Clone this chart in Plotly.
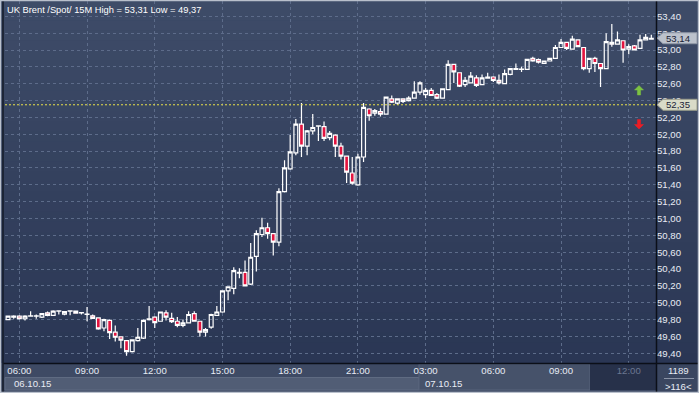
import plotly.graph_objects as go
from datetime import datetime, timedelta

# ---------------- data ----------------
instrument = "UK Brent /Spot/ 15M"
day1, day2 = "06.10.15", "07.10.15"
day1_start, day1_count = "05:15", 74
day2_start, day2_count = "02:45", 42

open_ = [49.80, 49.80, 49.83, 49.84, 49.81, 49.84, 49.84, 49.83, 49.88, 49.85,
         49.90, 49.865, 49.90, 49.90, 49.88, 49.86, 49.845, 49.82, 49.70, 49.79,
         49.65, 49.595, 49.55, 49.42, 49.55, 49.58, 49.80, 49.83, 49.78, 49.88,
         49.815, 49.78, 49.73, 49.76, 49.87, 49.78, 49.65, 49.71, 49.85, 49.89,
         50.14, 50.17, 50.35, 50.36, 50.22, 50.55, 50.81, 50.89, 50.82, 50.72,
         51.32, 51.59, 51.78, 52.12, 51.86, 52.04, 52.095, 52.09, 51.96, 51.99,
         51.86, 51.74, 51.54, 51.40, 51.73, 52.30, 52.25, 52.27, 52.24, 52.42,
         52.37, 52.42, 52.40, 52.43, 52.50, 52.47, 52.52, 52.47, 52.43, 52.53,
         52.83, 52.73, 52.59, 52.61, 52.67, 52.59, 52.665, 52.68, 52.64, 52.60,
         52.71, 52.77, 52.77, 52.77, 52.90, 52.885, 52.84, 52.87, 52.90, 53.03,
         53.09, 53.01, 53.12, 53.03, 52.78, 52.90, 52.84, 52.78, 53.09, 53.07,
         53.11, 53.01, 53.05, 53.02, 53.12, 53.13]

high = [49.82, 49.845, 49.85, 49.85, 49.85, 49.90, 49.86, 49.875, 49.895, 49.91,
        49.905, 49.90, 49.905, 49.905, 49.885, 49.95, 49.86, 49.825, 49.81, 49.80,
        49.73, 49.60, 49.555, 49.565, 49.70, 49.80, 49.96, 49.84, 49.895, 49.91,
        49.88, 49.83, 49.80, 49.90, 49.90, 49.785, 49.70, 49.87, 49.96, 50.145,
        50.195, 50.42, 50.41, 50.50, 50.71, 50.86, 51.01, 50.95, 50.825, 51.36,
        51.69, 51.99, 52.18, 52.37, 52.05, 52.24, 52.105, 52.15, 52.04, 52.00,
        51.90, 51.745, 51.73, 51.77, 52.37, 52.31, 52.30, 52.31, 52.445, 52.46,
        52.425, 52.425, 52.45, 52.63, 52.63, 52.55, 52.55, 52.49, 52.545, 52.88,
        52.835, 52.735, 52.68, 52.74, 52.70, 52.71, 52.73, 52.69, 52.71, 52.77,
        52.785, 52.84, 52.80, 52.895, 52.92, 52.90, 52.875, 52.905, 53.06, 53.13,
        53.095, 53.17, 53.125, 53.035, 52.905, 52.92, 52.845, 53.20, 53.31, 53.22,
        53.115, 53.07, 53.06, 53.18, 53.19, 53.18]

low = [49.79, 49.795, 49.81, 49.80, 49.79, 49.835, 49.81, 49.82, 49.84, 49.845,
       49.86, 49.85, 49.85, 49.87, 49.86, 49.78, 49.81, 49.68, 49.66, 49.57,
       49.54, 49.46, 49.37, 49.41, 49.54, 49.57, 49.79, 49.70, 49.775, 49.79,
       49.76, 49.71, 49.71, 49.755, 49.775, 49.60, 49.60, 49.69, 49.845, 49.88,
       50.03, 50.10, 50.29, 50.195, 50.21, 50.37, 50.78, 50.76, 50.56, 50.67,
       51.31, 51.58, 51.75, 51.73, 51.75, 52.00, 51.92, 51.92, 51.93, 51.73,
       51.70, 51.42, 51.40, 51.39, 51.67, 52.16, 52.22, 52.21, 52.235, 52.37,
       52.35, 52.37, 52.39, 52.425, 52.47, 52.43, 52.455, 52.42, 52.425, 52.525,
       52.61, 52.56, 52.56, 52.605, 52.56, 52.585, 52.66, 52.62, 52.59, 52.595,
       52.70, 52.765, 52.74, 52.765, 52.86, 52.84, 52.835, 52.865, 52.895, 53.025,
       53.00, 53.005, 53.035, 52.76, 52.73, 52.74, 52.56, 52.775, 53.04, 53.065,
       52.85, 52.95, 52.995, 53.015, 53.115, 53.125]

close = [49.81, 49.84, 49.84, 49.81, 49.84, 49.845, 49.845, 49.87, 49.85, 49.90,
         49.905, 49.895, 49.903, 49.875, 49.882, 49.865, 49.815, 49.69, 49.80, 49.645,
         49.59, 49.555, 49.42, 49.56, 49.59, 49.79, 49.81, 49.765, 49.89, 49.83,
         49.775, 49.73, 49.76, 49.86, 49.78, 49.65, 49.68, 49.86, 49.89, 50.14,
         50.19, 50.38, 50.36, 50.20, 50.54, 50.82, 50.89, 50.82, 50.72, 51.32,
         51.60, 51.79, 52.12, 51.86, 52.04, 52.08, 52.10, 51.95, 52.01, 51.86,
         51.74, 51.55, 51.42, 51.73, 52.32, 52.22, 52.28, 52.24, 52.44, 52.38,
         52.42, 52.39, 52.43, 52.50, 52.61, 52.52, 52.46, 52.43, 52.54, 52.83,
         52.74, 52.57, 52.64, 52.69, 52.58, 52.67, 52.68, 52.64, 52.61, 52.72,
         52.78, 52.78, 52.775, 52.89, 52.87, 52.855, 52.87, 52.90, 53.03, 53.09,
         53.02, 53.13, 53.04, 52.78, 52.90, 52.84, 52.78, 53.10, 53.07, 53.12,
         53.00, 53.04, 53.00, 53.12, 53.15, 53.14]

bid_price = 52.35
total_bars = "1189"

tick_times = ["06.10.15 06:00", "06.10.15 09:00", "06.10.15 12:00", "06.10.15 15:00",
              "06.10.15 18:00", "06.10.15 21:00", "07.10.15 03:00", "07.10.15 06:00",
              "07.10.15 09:00", "07.10.15 12:00"]
tick_labels = ["06:00", "09:00", "12:00", "15:00", "18:00", "21:00",
               "03:00", "06:00", "09:00", "12:00"]
y_ticks = [49.40, 49.60, 49.80, 50.00, 50.20, 50.40, 50.60, 50.80, 51.00, 51.20,
           51.40, 51.60, 51.80, 52.00, 52.20, 52.40, 52.60, 52.80, 53.00, 53.20, 53.40]


def stamps(day, start, n):
    t0 = datetime.strptime(day + " " + start, "%d.%m.%y %H:%M")
    return [(t0 + timedelta(minutes=15 * k)).strftime("%d.%m.%y %H:%M") for k in range(n)]


times = stamps(day1, day1_start, day1_count) + stamps(day2, day2_start, day2_count)


def fmt(v):
    return f"{v:.2f}".replace(".", ",")


# ---------------- geometry helpers (layout decoration only) ----------------
W, H = 699, 393
ML, MR, MT, MB = 5, 43, 1, 30
PW = W - ML - MR
PH = H - MT - MB
BOTTOM = H - MB


def px(x):
    return (x - ML) / PW


def py(y):
    return (BOTTOM - y) / PH


FONT = "Liberation Sans, Arial, sans-serif"
TXT = "#e8ecf4"

fig = go.Figure()
fig.add_trace(go.Candlestick(
    x=times, open=open_, high=high, low=low, close=close,
    increasing=dict(line=dict(color="#ffffff", width=1.2), fillcolor="rgba(0,0,0,0)"),
    decreasing=dict(line=dict(color="#ffffff", width=1.2), fillcolor="#e3143f"),
    whiskerwidth=0, hoverinfo="skip", showlegend=False,
))

shapes = []
# background gradient
top_c = (62, 76, 104)
bot_c = (42, 54, 84)
n = 36
for i in range(n):
    y0 = i * BOTTOM / n
    y1 = (i + 1) * BOTTOM / n
    f = (i + 0.5) / n
    c = tuple(round(top_c[k] + (bot_c[k] - top_c[k]) * f) for k in range(3))
    shapes.append(dict(type="rect", xref="paper", yref="paper", layer="below",
                       x0=px(0), x1=px(W), y0=py(y1 + 0.5), y1=py(y0),
                       fillcolor="rgb(%d,%d,%d)" % c, line_width=0))


def rect(x0, y0, x1, y1, fill, line=None, layer="below"):
    d = dict(type="rect", xref="paper", yref="paper", layer=layer,
             x0=px(x0), x1=px(x1), y0=py(y1), y1=py(y0), fillcolor=fill)
    if line:
        d["line"] = dict(color=line, width=1)
    else:
        d["line_width"] = 0
    return d


def hline(x0, x1, y, color, width=1, layer="above"):
    return dict(type="line", xref="paper", yref="paper", layer=layer,
                x0=px(x0), x1=px(x1), y0=py(y), y1=py(y), line=dict(color=color, width=width))


def vline(x, y0, y1, color, width=1, layer="above"):
    return dict(type="line", xref="paper", yref="paper", layer=layer,
                x0=px(x), x1=px(x), y0=py(y0), y1=py(y1), line=dict(color=color, width=width))


# bottom axis area
shapes.append(rect(0, BOTTOM, W, H, "#3e4a64"))
shapes.append(rect(5, 377.5, 419, 390, "#515d75", line="#5f6b82"))
shapes.append(rect(419, 364, 590, 390, "#46526a", line="#56627a"))
shapes.append(rect(590, 364, 656, 390, "#27314a"))
shapes.append(rect(657, 364, W, H, "#3a4660"))

# bid line
shapes.append(dict(type="line", xref="paper", yref="y", x0=0, x1=1, y0=bid_price, y1=bid_price,
                   line=dict(color="#e8e24a", width=1, dash="2px,2px"), layer="above"))

# separators and frame
shapes.append(vline(656.5, 0, H, "#0b0f18", 1.5))
shapes.append(hline(3, W, BOTTOM + 0.5, "#0b0f18", 1.5))
shapes.append(vline(3, 0, H, "#151b28", 1.5))
shapes.append(hline(664, 694, 378.5, "#8a93a6", 1))
shapes.append(dict(type="rect", xref="paper", yref="paper", layer="above",
                   x0=px(0.5), x1=px(W - 0.5), y0=py(H - 0.5), y1=py(0.5),
                   line=dict(color="#b9c0cc", width=1.5), fillcolor="rgba(0,0,0,0)"))


# price markers on the right axis
def marker(price, fill, border):
    return dict(type="path", xref="paper", yref="y", xsizemode="pixel", ysizemode="pixel",
                xanchor=1, yanchor=price, layer="above",
                path="M 1 0 L 7 5.5 L 41 5.5 L 41 -5.5 L 7 -5.5 Z",
                fillcolor=fill, line=dict(color=border, width=1))


last_close = close[-1]
shapes.append(marker(last_close, "#bcc2cc", "#8f97a6"))
shapes.append(marker(bid_price, "#d9dbc8", "#9a9c8a"))


# signal arrows
def arrow(xc, yc, up, color):
    s = 1 if up else -1
    pts = [(0, 5 * s), (-4.5, 0.5 * s), (-1.6, 0.5 * s), (-1.6, -4.5 * s), (1.6, -4.5 * s),
           (1.6, 0.5 * s), (4.5, 0.5 * s)]
    path = "M " + " L ".join("%g %g" % p for p in pts) + " Z"
    return dict(type="path", xref="paper", yref="paper", xsizemode="pixel", ysizemode="pixel",
                xanchor=px(xc), yanchor=py(yc), path=path, fillcolor=color,
                line=dict(color=color, width=0.5), layer="above")


shapes.append(arrow(639, 90.5, True, "#7cc242"))
shapes.append(arrow(639, 124, False, "#ec1c24"))

annotations = [
    dict(xref="paper", yref="paper", x=px(5), y=py(10), xanchor="left", yanchor="middle",
         text=f"{instrument} High = {fmt(max(high))} Low = {fmt(min(low))}",
         showarrow=False, font=dict(family=FONT, size=9.3, color="#ffffff")),
    dict(xref="paper", yref="y", x=1, y=last_close, xshift=8, xanchor="left", yanchor="middle",
         text=fmt(last_close), showarrow=False, font=dict(family=FONT, size=9.6, color="#1a2236")),
    dict(xref="paper", yref="y", x=1, y=bid_price, xshift=8, xanchor="left", yanchor="middle",
         text=fmt(bid_price), showarrow=False, font=dict(family=FONT, size=9.6, color="#1a2236")),
    dict(xref="paper", yref="paper", x=px(12), y=py(383.5), xanchor="left", yanchor="middle",
         text=day1, showarrow=False, font=dict(family=FONT, size=9.6, color=TXT)),
    dict(xref="paper", yref="paper", x=px(423), y=py(383.5), xanchor="left", yanchor="middle",
         text=day2, showarrow=False, font=dict(family=FONT, size=9.6, color=TXT)),
    dict(xref="paper", yref="paper", x=px(678.5), y=py(370.5), xanchor="center", yanchor="middle",
         text=total_bars, showarrow=False, font=dict(family=FONT, size=9.6, color=TXT)),
    dict(xref="paper", yref="paper", x=px(678.5), y=py(386), xanchor="center", yanchor="middle",
         text=f"&gt;{len(close)}&lt;", showarrow=False, font=dict(family=FONT, size=9.6, color=TXT)),
]

tick_text = tick_labels[:-1] + ['<span style="color:#6c7791">%s</span>' % tick_labels[-1]]

fig.update_layout(
    width=W, height=H,
    margin=dict(l=ML, r=MR, t=MT, b=MB, pad=0, autoexpand=False),
    paper_bgcolor="#344160", plot_bgcolor="rgba(0,0,0,0)",
    separators=", ",
    font=dict(family=FONT, size=9.6, color=TXT),
    shapes=shapes, annotations=annotations,
    showlegend=False, hovermode=False,
    boxgap=0.15, boxgroupgap=0.2,
    xaxis=dict(type="category", categoryorder="array", categoryarray=times,
               range=[0.46, 115.83], rangeslider=dict(visible=False),
               tickmode="array", tickvals=tick_times, ticktext=tick_text,
               showgrid=True, gridcolor="#5d6c8a", griddash="3px,3px", gridwidth=1,
               showline=False, zeroline=False, ticks="", tickfont=dict(size=9.6, color=TXT),
               automargin=False, fixedrange=True),
    yaxis=dict(side="right", range=[49.2845, 53.582], tickmode="array", tickvals=y_ticks,
               tickformat=".2f", showgrid=True, gridcolor="#5d6c8a", griddash="3px,3px",
               gridwidth=1, showline=False, zeroline=False, ticks="",
               tickfont=dict(size=9.6, color=TXT), automargin=False, fixedrange=True),
)

fig.write_html("out.html", config={"displayModeBar": False},
               post_script="document.body.style.margin='0';document.body.style.overflow='hidden';")
